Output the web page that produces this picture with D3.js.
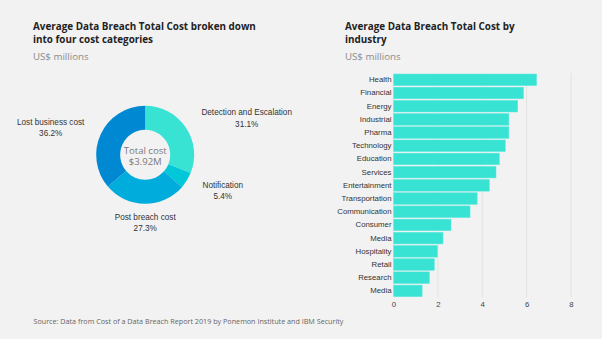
<!DOCTYPE html>
<html>
<head>
<meta charset="utf-8">
<script src="https://cdn.jsdelivr.net/npm/d3@7"></script>
<style>
  html, body { margin: 0; padding: 0; background: #f2f2f2; }
  svg { display: block; }
</style>
</head>
<body>
<div id="chart"></div>
<script>
const width = 602;
const height = 339;

// cost split (percent of total)
const costCategories = ["Detection and Escalation", "Notification", "Post breach cost", "Lost business cost"];
const costShares = [31.1, 5.4, 27.3, 36.2];
const costColors = ["#38e3d4", "#00c8d8", "#00acdb", "#0089d2"];

// average total cost per industry, US$ millions
const industries = ["Health", "Financial", "Energy", "Industrial", "Pharma", "Technology", "Education",
	"Services", "Entertainment", "Transportation", "Communication", "Consumer", "Media",
	"Hospitality", "Retail", "Research", "Media"];
const industryCost = [6.45, 5.86, 5.60, 5.20, 5.20, 5.04, 4.77, 4.62, 4.32, 3.77, 3.45, 2.59, 2.23,
	1.98, 1.84, 1.62, 1.29];
const xTicks = [0, 2, 4, 6, 8];

const titleFont = "'Open Sans', sans-serif";
const labelFont = "'Liberation Sans', Arial, sans-serif";

const svg = d3.select("#chart")
	.append("svg")
	.attr("width", width)
	.attr("height", height)
	.attr("viewBox", [0, 0, width, height]);

svg.append("rect")
	.attr("width", width)
	.attr("height", height)
	.attr("fill", "#f2f2f2");

function drawTitle(x, lines) {
	const g = svg.append("g").attr("font-family", titleFont);
	lines.forEach((t, i) => {
		g.append("text")
			.attr("x", x)
			.attr("y", 30 + i * 12.6)
			.attr("font-size", 9.9)
			.attr("font-weight", 700)
			.attr("fill", "#222")
			.text(t);
	});
	g.append("text")
		.attr("x", x)
		.attr("y", 59.5)
		.attr("font-size", 9.7)
		.attr("fill", "#8a8a8a")
		.text("US$ millions");
}

drawTitle(33, ["Average Data Breach Total Cost broken down", "into four cost categories"]);
drawTitle(345, ["Average Data Breach Total Cost by", "industry"]);

// ---- donut ----
const cx = 145.2, cy = 154.8;
const pie = d3.pie().sort(null).value(d => d.value);
const arc = d3.arc().innerRadius(25).outerRadius(49);
const slices = pie(costCategories.map((name, i) => ({ name, value: costShares[i], color: costColors[i] })));

const donut = svg.append("g").attr("transform", `translate(${cx},${cy})`);
donut.selectAll("path")
	.data(slices)
	.join("path")
	.attr("d", arc)
	.attr("fill", d => d.data.color);

donut.append("text")
	.attr("text-anchor", "middle")
	.attr("y", -1)
	.attr("font-family", titleFont)
	.attr("font-size", 9.6)
	.attr("fill", "#7a7a7a")
	.text("Total cost");
donut.append("text")
	.attr("text-anchor", "middle")
	.attr("y", 10.5)
	.attr("font-family", titleFont)
	.attr("font-size", 9.6)
	.attr("fill", "#7a7a7a")
	.text("$3.92M");

// label anchors, offsets from the donut centre
const labelPos = [[101.5, -39.5], [77.6, 33], [0, 65], [-94.5, -30]];
const labels = svg.append("g")
	.attr("font-family", labelFont)
	.attr("font-size", 8.2)
	.attr("fill", "#333")
	.attr("text-anchor", "middle");
slices.forEach((s, i) => {
	const [dx, dy] = labelPos[i];
	labels.append("text")
		.attr("x", cx + dx)
		.attr("y", cy + dy)
		.text(s.data.name);
	labels.append("text")
		.attr("x", cx + dx)
		.attr("y", cy + dy + 11.5)
		.text(`${s.data.value.toFixed(1)}%`);
});

// ---- industry bars ----
const margin = { left: 393.5, right: 31, top: 73.2, bottom: 41.5 };
const x = d3.scaleLinear()
	.domain([0, 8])
	.range([margin.left, width - margin.right]);
const y = d3.scaleBand()
	.domain(industries.map((d, i) => i))
	.range([margin.top, height - margin.bottom])
	.paddingInner(0.12)
	.paddingOuter(0.06);

svg.append("g")
	.selectAll("line")
	.data(xTicks.slice(1))
	.join("line")
	.attr("x1", d => x(d))
	.attr("x2", d => x(d))
	.attr("y1", margin.top)
	.attr("y2", height - margin.bottom)
	.attr("stroke", "#e2e2e2")
	.attr("stroke-width", 1);

svg.append("g")
	.selectAll("rect")
	.data(industryCost)
	.join("rect")
	.attr("x", x(0))
	.attr("y", (d, i) => y(i))
	.attr("width", d => x(d) - x(0))
	.attr("height", y.bandwidth())
	.attr("fill", "#38e3d4")
	.attr("stroke", "#5fe9de")
	.attr("stroke-width", 0.5);

const yAxis = svg.append("g")
	.attr("transform", `translate(${margin.left - 2},0)`)
	.call(d3.axisLeft(y).tickSize(0).tickPadding(0).tickFormat(i => industries[i]));
yAxis.select(".domain").remove();
yAxis.selectAll("text")
	.attr("font-family", labelFont)
	.attr("font-size", 7.8)
	.attr("fill", "#333");

const xAxis = svg.append("g")
	.attr("transform", `translate(0,${height - margin.bottom})`)
	.call(d3.axisBottom(x).tickValues(xTicks).tickSize(0).tickPadding(3.5));
xAxis.select(".domain").remove();
xAxis.selectAll("text")
	.attr("font-family", labelFont)
	.attr("font-size", 7.8)
	.attr("fill", "#444");

svg.append("text")
	.attr("x", 33.5)
	.attr("y", 324)
	.attr("font-family", titleFont)
	.attr("font-size", 7.2)
	.attr("fill", "#666")
	.text("Source: Data from Cost of a Data Breach Report 2019 by Ponemon Institute and IBM Security");
</script>
</body>
</html>
